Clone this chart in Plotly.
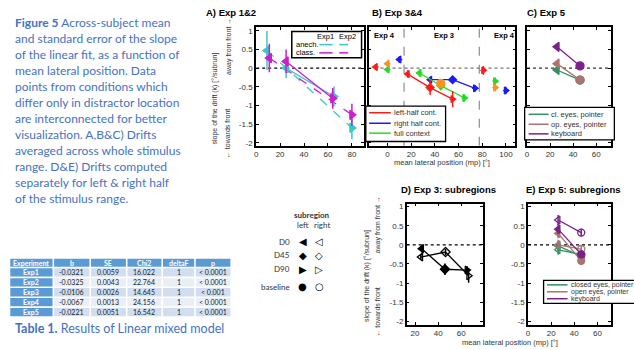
import plotly.graph_objects as go

W, H = 634, 350
def fx(p): return p / W
def fy(p): return 1 - p / H

# ---------------- data ----------------
# Panel A (Exp 1 solid, Exp 2 dashed)
a1_anech_x = [25, 65];  a1_anech_y = [0.0, -0.76];  a1_anech_e = [0.27, 0.27]
a1_class_x = [25, 64];  a1_class_y = [0.18, -0.81]; a1_class_e = [0.32, 0.28]
a2_anech_x = [9, 80];   a2_anech_y = [0.47, -1.60]; a2_anech_e = [0.52, 0.30]
a2_class_x = [11, 80];  a2_class_y = [0.27, -1.25]; a2_class_e = [0.38, 0.30]

# Panel B (Exp 3 connected, Exp 4 single points)
b_left_x = [17, 36, 55];  b_left_y = [-0.16, -0.52, -0.83];  b_left_e = [0.10, 0.20, 0.22]
b_right_x = [36, 55, 74]; b_right_y = [-0.31, -0.31, -0.54]; b_right_e = [0.08, 0.08, 0.09]
b_full_x = [27, 45, 65];  b_full_y = [-0.13, -0.47, -0.80];  b_full_e = [0.10, 0.12, 0.10]
b_base_x = [45];          b_base_y = [-0.41]
b4_red_x = [-10, 81];  b4_red_y = [0.03, -0.06];  b4_red_e = [0.08, 0.12]
b4_org_x = [0, 91];    b4_org_y = [0.12, -0.52];  b4_org_e = [0.08, 0.10]
b4_grn_x = [0, 91];    b4_grn_y = [-0.04, -0.35]; b4_grn_e = [0.08, 0.10]
b4_blu_x = [10, 100];  b4_blu_y = [0.23, -0.60];  b4_blu_e = [0.09, 0.10]

# Panel C (Exp 5)
c_x = [26, 46]
c_cl_y = [-0.05, -0.32]
c_op_y = [0.12, -0.32]
c_kb_y = [0.57, 0.06]

# Panel D (Exp 3 subregions)
d_left_x = [25.7, 45.9, 65];  d_left_y = [-0.10, -0.64, -0.66]; d_left_e = [0.10, 0.15, 0.10]
d_right_x = [25, 46.4, 66.4]; d_right_y = [-0.32, -0.19, -0.81]; d_right_e = [0.08, 0.08, 0.18]

# Panel E (Exp 5 subregions)
e_x = [26, 46]
e_cl_left = [-0.03, -0.30]; e_cl_right = [-0.13, -0.25]
e_op_left = [0.30, -0.42];  e_op_right = [0.00, -0.11]
e_kb_left = [0.41, -0.25];  e_kb_right = [0.65, 0.32]
e_err = [0.13, 0.10]

# Table
tbl_header = ["Experiment", "b", "SE", "Chi2", "deltaF", "p"]
tbl_exp = ["Exp1", "Exp2", "Exp3", "Exp4", "Exp5"]
tbl_b = ["-0.0321", "-0.0325", "-0.0106", "-0.0067", "-0.0221"]
tbl_se = ["0.0059", "0.0043", "0.0026", "0.0013", "0.0051"]
tbl_chi = ["16.022", "22.764", "14.645", "24.156", "16.542"]
tbl_df = ["1", "1", "1", "1", "1"]
tbl_p = ["< 0.0001", "< 0.0001", "< 0.001", "< 0.0001", "< 0.0001"]

caption_lines = [
    "<b>Figure 5</b> Across-subject mean",
    "and standard error of the slope",
    "of the linear fit, as a function of",
    "mean lateral position. Data",
    "points from conditions which",
    "differ only in distractor location",
    "are interconnected for better",
    "visualization. A,B&C) Drifts",
    "averaged across whole stimulus",
    "range. D&E) Drifts computed",
    "separately for left & right half",
    "of the stimulus range.",
]

CYAN = "#3cc8c8"; MAG = "#cc1fcc"
RED = "#ff1a1a"; BLUE = "#1a1aff"; GREEN = "#22dd22"; ORANGE = "#ff9020"
EGRN = "#2f9060"; EBRN = "#a87474"; EPUR = "#7b2189"
TXTBLUE = "#4472c4"
FONT = "Liberation Sans"

fig = go.Figure()

def series(x, y, err, color, xa, ya, symbols, dash="solid", size=8, mode="lines+markers",
           ex=None, lw=1.3):
    fig.add_trace(go.Scatter(
        x=x, y=y, mode=mode, xaxis=xa, yaxis=ya, showlegend=False, hoverinfo="skip",
        line=dict(color=color, width=lw, dash=dash),
        marker=dict(symbol=symbols, size=size, color=color, line=dict(color=color, width=1.3)),
        error_y=dict(type="data", array=err, color=color, thickness=1.5, width=0) if err else None,
        error_x=dict(type="data", array=ex, color=color, thickness=1.3, width=0) if ex else None,
    ))

# Panel A
series(a2_anech_x, a2_anech_y, a2_anech_e, CYAN, "x", "y", ["triangle-left", "triangle-right"], dash="dash")
series(a2_class_x, a2_class_y, a2_class_e, MAG, "x", "y", ["triangle-left", "triangle-right"], dash="dash")
series(a1_anech_x, a1_anech_y, a1_anech_e, CYAN, "x", "y", ["triangle-left", "triangle-right"])
series(a1_class_x, a1_class_y, a1_class_e, MAG, "x", "y", ["triangle-left", "triangle-right"])

# Panel B
sym3 = ["triangle-left", "diamond", "triangle-right"]
series(b_right_x, b_right_y, b_right_e, BLUE, "x2", "y2", sym3, size=6, ex=[2.5]*3)
series(b_full_x, b_full_y, b_full_e, GREEN, "x2", "y2", sym3, size=6, ex=[2.5]*3)
series(b_base_x, b_base_y, None, ORANGE, "x2", "y2", ["circle"], size=8, mode="markers")
series(b_left_x, b_left_y, b_left_e, RED, "x2", "y2", sym3, size=6, ex=[2.5]*3)
sym2 = ["triangle-left", "triangle-right"]
series(b4_red_x, b4_red_y, b4_red_e, RED, "x2", "y2", sym2, size=6, mode="markers", ex=[2.5]*2)
series(b4_grn_x, b4_grn_y, b4_grn_e, GREEN, "x2", "y2", sym2, size=6, mode="markers", ex=[2.5]*2)
series(b4_org_x, b4_org_y, b4_org_e, ORANGE, "x2", "y2", sym2, size=6, mode="markers", ex=[2.5]*2)
series(b4_blu_x, b4_blu_y, b4_blu_e, BLUE, "x2", "y2", sym2, size=6, mode="markers", ex=[2.5]*2)

# Panel C
symc = ["triangle-left", "circle"]
series(c_x, c_cl_y, [0.05, 0.05], EGRN, "x3", "y3", symc, size=8)
series(c_x, c_op_y, [0.05, 0.05], EBRN, "x3", "y3", symc, size=8)
series(c_x, c_kb_y, [0.05, 0.05], EPUR, "x3", "y3", symc, size=8)

# Panel D
series(d_left_x, d_left_y, d_left_e, "black", "x4", "y4", sym3, size=7)
series(d_right_x, d_right_y, d_right_e, "black", "x4", "y4",
       ["triangle-left-open", "diamond-open", "triangle-right-open"], size=7)

# Panel E
syme_f = ["triangle-left", "circle"]
syme_o = ["triangle-left-open", "circle-open"]
for col, yl, yr in [(EGRN, e_cl_left, e_cl_right), (EBRN, e_op_left, e_op_right), (EPUR, e_kb_left, e_kb_right)]:
    series(e_x, yl, e_err, col, "x5", "y5", syme_f, size=7)
    series(e_x, yr, e_err, col, "x5", "y5", syme_o, size=7)

# ---------------- axes ----------------
yA = [fy(146), fy(26)]
yD = [fy(326.7), fy(204.3)]
rA = [-2.077, 1.106]
rD = [-2.096, 1.08]
ax_common = dict(showline=True, linecolor="black", mirror="ticks", ticks="inside", ticklen=3,
                 tickcolor="black", showgrid=False, zeroline=False,
                 tickfont=dict(family=FONT, size=8, color="#333"))
ytick = dict(tickvals=[-2, -1.5, -1, -0.5, 0, 0.5, 1], ticktext=["-2", "-1.5", "-1", "-0.5", "0", "0.5", "1"])

fig.update_layout(
    xaxis=dict(domain=[fx(255), fx(363)], range=[0, 90], anchor="y", tickvals=[0, 20, 40, 60, 80], linewidth=2, **ax_common),
    yaxis=dict(domain=yA, range=rA, anchor="x", linewidth=2, **ytick, **ax_common),
    xaxis2=dict(domain=[fx(367.7), fx(515)], range=[-16, 108], anchor="y2", tickvals=[0, 20, 40, 60, 80, 100], linewidth=1.5, **ax_common),
    yaxis2=dict(domain=yA, range=rA, anchor="x2", showticklabels=False, linewidth=1.5, **ytick, **ax_common),
    xaxis3=dict(domain=[fx(526.7), fx(610.7)], range=[0, 72.7], anchor="y3", tickvals=[0, 20, 40, 60], linewidth=1.5, **ax_common),
    yaxis3=dict(domain=yA, range=rA, anchor="x3", showticklabels=False, linewidth=1.5, **ytick, **ax_common),
    xaxis4=dict(domain=[fx(406), fx(482.7)], range=[12.8, 79], anchor="y4", tickvals=[20, 40, 60], linewidth=1.5, **ax_common),
    yaxis4=dict(domain=yD, range=rD, anchor="x4", linewidth=1.5, **ytick, **ax_common),
    xaxis5=dict(domain=[fx(527.7), fx(611)], range=[0, 71.8], anchor="y5", tickvals=[0, 20, 40, 60], linewidth=1.5, **ax_common),
    yaxis5=dict(domain=yD, range=rD, anchor="x5", linewidth=1.5, **ytick, **ax_common),
)

shapes = []
# zero lines
for xa, ya, c in [("x", "y", "black"), ("x2", "y2", "#777"), ("x3", "y3", "#333"), ("x4", "y4", "black"), ("x5", "y5", "black")]:
    shapes.append(dict(type="line", xref=f"{xa} domain", yref=ya, x0=0, x1=1, y0=0, y1=0,
                       line=dict(color=c, width=1.2, dash="dot"), layer="below"))
# Exp3/Exp4 separators in B
for xv in [14, 77.5]:
    shapes.append(dict(type="line", xref="x2", yref="y2 domain", x0=xv, x1=xv, y0=0, y1=1,
                       line=dict(color="#777", width=1, dash="dash"), layer="below"))

ann = []
def text(x, y, s, size=8, color="black", anchor="left", family=FONT, angle=0, vanchor="middle"):
    ann.append(dict(x=fx(x), y=fy(y), xref="paper", yref="paper", text=s, showarrow=False,
                    xanchor=anchor, yanchor=vanchor, textangle=angle,
                    font=dict(size=size, color=color, family=family)))

def box(x0, y0, x1, y1, lw=1.3, fill="white", line="black"):
    shapes.append(dict(type="rect", xref="paper", yref="paper", x0=fx(x0), x1=fx(x1), y0=fy(y1), y1=fy(y0),
                       line=dict(color=line, width=lw), fillcolor=fill, layer="above"))

def lline(x0, x1, y, color, dash="solid", w=1.3):
    shapes.append(dict(type="line", xref="paper", yref="paper", x0=fx(x0), x1=fx(x1), y0=fy(y), y1=fy(y),
                       line=dict(color=color, width=w, dash=dash), layer="above"))

# legend A
box(290.7, 30.7, 360.7, 57.3, lw=1.5)
text(325, 35.5, "Exp1", size=7.5, anchor="center")
text(347, 35.5, "Exp2", size=7.5, anchor="center")
text(292.5, 44, "anech.", size=7.5)
text(292.5, 52.3, "class.", size=7.5)
lline(318.3, 331.7, 44, CYAN, w=1.5)
lline(318.3, 331.7, 52.3, MAG, w=1.5)
lline(338.3, 355, 44, CYAN, dash="dash", w=1.5)
lline(338.3, 355, 52.3, MAG, dash="dash", w=1.5)

# legend B
box(365, 106, 445, 141.7)
for yy, col, s in [(112.7, RED, "left-half cont."), (123.3, BLUE, "right half cont."), (133.3, GREEN, "full context")]:
    lline(368.3, 390, yy, col, w=1.5)
    text(391, yy, s, size=7.5, color="#333")

# legend C
box(524.3, 107.3, 614.3, 140)
for yy, col, s in [(114.3, EGRN, "cl. eyes, pointer"), (124.3, EBRN, "op. eyes, pointer"), (134, EPUR, "keyboard")]:
    lline(528.3, 548.3, yy, col, w=1.5)
    text(549, yy, s, size=7.5, color="#333")

# legend E (runs off the right edge, as in the original)
box(543.3, 281.7, 645, 305)
for yy, col, s in [(286.3, EGRN, "closed eyes, pointer"), (293.3, EBRN, "open eyes, pointer"), (300.3, EPUR, "keyboard")]:
    lline(546.7, 567.3, yy, col, w=1.5)
    text(568.5, yy, s, size=7, color="#333")

# panel titles
text(203, 12, "<b>A) Exp 1&2</b>", size=9.5)
text(369.3, 12, "<b>B) Exp 3&4</b>", size=9.5)
text(525, 12, "<b>C) Exp 5</b>", size=9.5)
text(398.3, 190, "<b>D) Exp 3: subregions</b>", size=9.5)
text(523.3, 190, "<b>E) Exp 5: subregions</b>", size=9.5)

# Exp labels in B
text(384, 35, "<b>Exp 4</b>", size=7.5, anchor="center")
text(443.7, 35, "<b>Exp 3</b>", size=7.5, anchor="center")
text(503.6, 35, "<b>Exp 4</b>", size=7.5, anchor="center")

# x-axis titles
text(441, 163, "mean lateral position (mp) [°]", size=7.5, anchor="center", color="#333")
text(510, 344, "mean lateral position (mp) [°]", size=7.5, anchor="center", color="#333")

# y-axis titles (A and D)
for c1, c2, top, bot in [(214, 227, 26, 146), (366, 377, 204.3, 326.7)]:
    mid = (top + bot) / 2
    text(c1, mid + 12, "slope of the drift (k) [°/subrun]", size=7, angle=-90, anchor="center", color="#333")
    text(c2, mid + 48, "← towards front", size=7, angle=-90, anchor="center", color="#333")
    text(c2, mid - 40, "away from front →", size=7, angle=-90, anchor="center", color="#333")

# subregion key
text(311, 215.7, "<b>subregion</b>", size=8, anchor="center", family="Lato", color="#333")
text(301.7, 226, "left", size=8, anchor="center", family="Lato", color="#333")
text(320.7, 226, "right", size=8, anchor="center", family="Lato", color="#333")
for yy, lab, f, o in [(242.7, "D0", "◀", "◁"), (256.7, "D45", "◆", "◇"), (270.7, "D90", "▶", "▷"), (288.3, "baseline", "●", "○")]:
    text(290.5, yy, lab, size=8, anchor="right", family="Lato", color="#333")
    text(301.7, yy, f, size=10, anchor="center", family="DejaVu Sans")
    text(318.3, yy, o, size=10, anchor="center", family="DejaVu Sans")

# Figure caption
for i, line in enumerate(caption_lines):
    text(11.5, 21.7 + i * 16.1, line, size=12, color=TXTBLUE, family="Lato")

# Table caption
text(11.5, 330, "<b>Table 1.</b> Results of Linear mixed model", size=12.5, color=TXTBLUE, family="Lato")

# Table drawn as cells
HDR = "#5b9bd5"
row_fill = ["#d2deef", "#eaeff7"]
col_w = [42.4, 35.4, 35, 34, 31.3, 34.7]
gap = 1.6
tbl_x0, tbl_y0, hdr_h, row_h = 8.3, 260, 8, 8.4
columns = [tbl_exp, tbl_b, tbl_se, tbl_chi, tbl_df, tbl_p]
xs = []
cx = tbl_x0
for w in col_w:
    xs.append(cx)
    cx += w + gap
for j, (hname, colvals) in enumerate(zip(tbl_header, columns)):
    x0 = xs[j]; x1 = x0 + col_w[j]
    box(x0, tbl_y0, x1, tbl_y0 + hdr_h, lw=0, fill=HDR, line="rgba(0,0,0,0)")
    text((x0 + x1) / 2, tbl_y0 + hdr_h / 2, f"<b>{hname}</b>", size=7, color="white", anchor="center", family="Lato")
    for i, v in enumerate(colvals):
        y0 = tbl_y0 + hdr_h + gap + i * (row_h + gap)
        fill = HDR if j == 0 else row_fill[i % 2]
        box(x0, y0, x1, y0 + row_h, lw=0, fill=fill, line="rgba(0,0,0,0)")
        s = f"<b>{v}</b>" if j == 0 else v
        text((x0 + x1) / 2, y0 + row_h / 2, s, size=7, color="white" if j == 0 else "#222",
             anchor="center", family="Lato")

fig.update_layout(width=W, height=H, margin=dict(l=0, r=0, t=0, b=0),
                  paper_bgcolor="white", plot_bgcolor="white", showlegend=False,
                  hovermode=False, shapes=shapes, annotations=ann)
fig.write_html("out.html", config={"displayModeBar": False},
               post_script="document.body.style.margin='0';document.body.style.overflow='hidden';")
